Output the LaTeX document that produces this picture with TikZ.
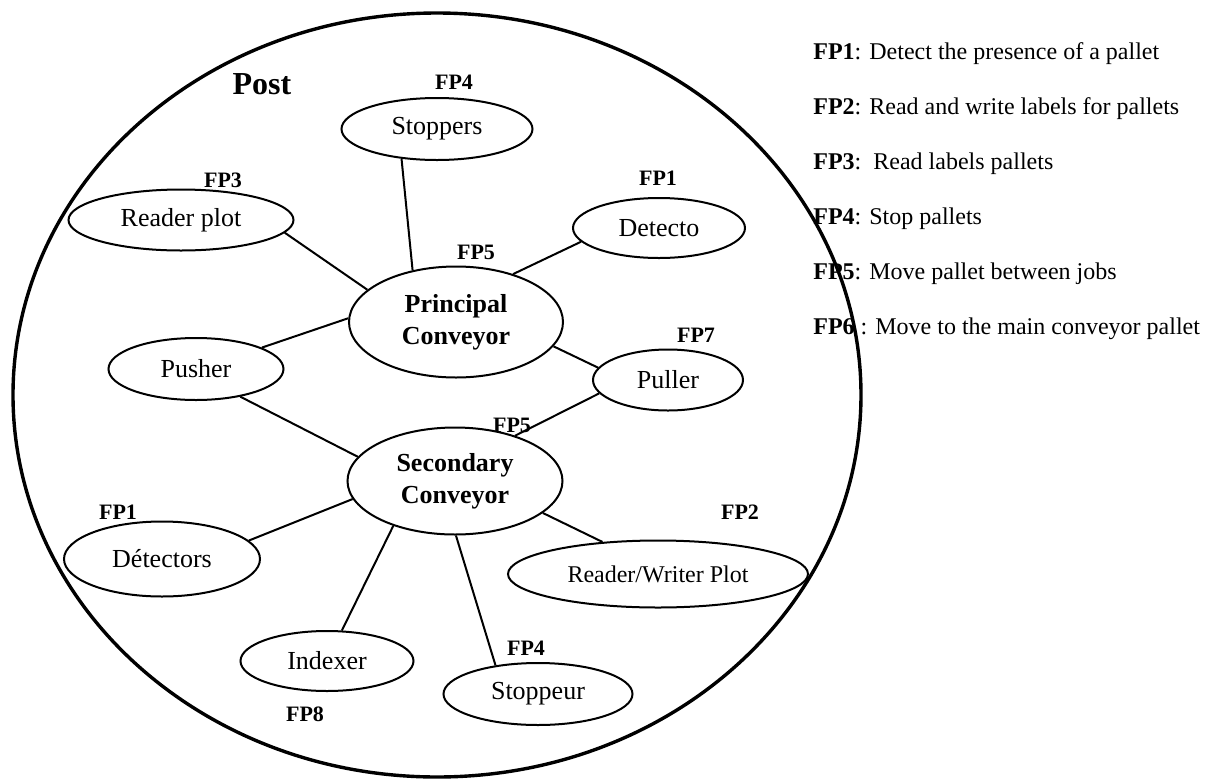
\documentclass[tikz,border=0pt]{standalone}
\usepackage{fontspec}
\setmainfont{Liberation Serif}
\usetikzlibrary{shapes.geometric, positioning}
\tikzset{
  part/.style={ellipse, draw=black, line width=1pt, inner sep=1pt, minimum height=31pt, font=\fontsize{13}{15}\selectfont},
  conveyor/.style={part, align=center, font=\fontsize{13}{16}\selectfont\bfseries},
  fplabel/.style={font=\fontsize{11}{13}\selectfont\bfseries, inner sep=0pt},
  legend/.style={anchor=base west, inner sep=0pt, font=\fontsize{12}{14}\selectfont},
  link/.style={line width=1pt}
}

\begin{document}
\begin{tikzpicture}[x=0.5pt, y=-0.5pt]
    \useasboundingbox (0,0) rectangle (1207,778);

    % Legend
    \node (leg1) [legend] at (813,59) {\textbf{FP1}: Detect the presence of a pallet};
    \node (leg2) [legend] at (813,114) {\textbf{FP2}: Read and write labels for pallets};
    \node (leg3) [legend] at (813,169) {\textbf{FP3}:\ \ Read labels pallets};
    \node (leg4) [legend] at (813,224) {\textbf{FP4}: Stop pallets};
    \node (leg5) [legend] at (813,279) {\textbf{FP5}: Move pallet between jobs};
    \node (leg6) [legend] at (813,334) {\textbf{FP6} : Move to the main conveyor pallet};

    % Post
    \node (post) [ellipse, draw=black, line width=1.7pt, minimum width=424pt, minimum height=382pt] at (437,395) {};
    \node (posttitle) [font=\fontsize{16}{18}\selectfont\bfseries, inner sep=0pt] at (262,84) {Post};

    % Conveyors
    \node (principal) [conveyor, minimum width=107pt, minimum height=55.5pt] at (456,322) {Principal\\Conveyor};
    \node (secondary) [conveyor, minimum width=107.5pt, minimum height=53.5pt] at (455,481) {Secondary\\Conveyor};

    % Parts
    \node (stoppers) [part, minimum width=95.5pt] at (437,129) {Stoppers};
    \node (readerplot) [part, minimum width=112.5pt, minimum height=30.5pt] at (181,220) {Reader plot};
    \node (detecto) [part, minimum width=86pt, minimum height=30pt] at (659,228) {Detecto};
    \node (pusher) [part, minimum width=87.5pt] at (196,369) {Pusher};
    \node (puller) [part, minimum width=75pt, minimum height=30.5pt] at (668,380) {Puller};
    \node (detectors) [part, minimum width=98pt, minimum height=37.5pt] at (162,559) {Détectors};
    \node (rwplot) [part, minimum width=150pt, minimum height=33.5pt, font=\fontsize{12}{14}\selectfont] at (658,574) {Reader/Writer Plot};
    \node (indexer) [part, minimum width=86.5pt, minimum height=30pt] at (327,661) {Indexer};
    \node (stoppeur) [part, minimum width=94.5pt] at (538,694) {Stoppeur};

    % FP labels
    \node (fpstoppers) [fplabel] at (454,82) {FP4};
    \node (fpreader) [fplabel] at (223,180) {FP3};
    \node (fpdetecto) [fplabel] at (658,178) {FP1};
    \node (fpprincipal) [fplabel] at (476,252) {FP5};
    \node (fppuller) [fplabel] at (696,335) {FP7};
    \node (fpsecondary) [fplabel] at (512,425) {FP5};
    \node (fpdetectors) [fplabel] at (118,512) {FP1};
    \node (fprwplot) [fplabel] at (740,512) {FP2};
    \node (fpstoppeur) [fplabel] at (526,648) {FP4};
    \node (fpindexer) [fplabel] at (305,714) {FP8};

    % Links to the principal conveyor
    \draw [link] (stoppers.220) -- (principal.130);
    \draw [link] (readerplot.-7) -- (principal.160);
    \draw [link] (detecto.190) -- (principal.40);
    \draw [link] (pusher.18) -- (principal.178);
    \draw [link] (puller.170) -- (principal.-14);

    % Links to the secondary conveyor
    \draw [link] (puller.191) -- (secondary.37);
    \draw [link] (pusher.-32) -- (secondary.166);
    \draw [link] (detectors.12) -- (secondary.190);
    \draw [link] (indexer.64) -- (secondary.216);
    \draw [link] (rwplot.150) -- (secondary.-20);
    \draw [link] (stoppeur.146) -- (secondary.-89);

\end{tikzpicture}
\end{document}
